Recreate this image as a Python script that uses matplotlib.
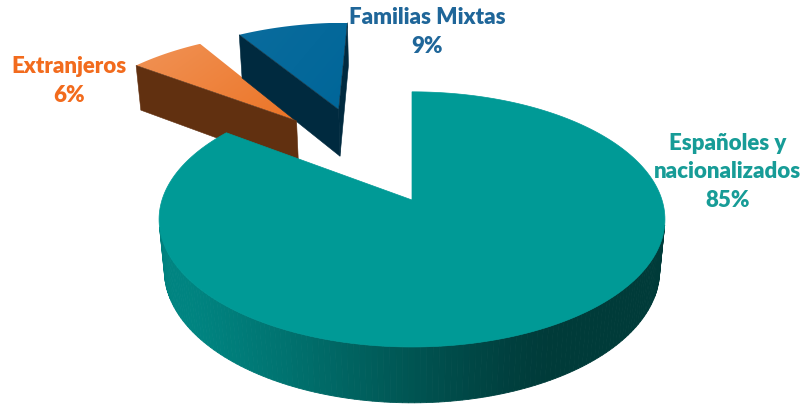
import numpy as np
import matplotlib.pyplot as plt
from matplotlib.patches import Polygon
from matplotlib.colors import to_rgb

# data (counter-clockwise from 12 o'clock)
labels = ['Familias Mixtas', 'Extranjeros', 'Españoles y\nnacionalizados']
shares = [9, 6, 85]
colors = ['#006699', '#EC7426', '#009A96']
label_colors = ['#1F6699', '#F26B1D', '#179C97']
explode = [0.88, 0.87, 0.0]
explode_dir = [112, 126, 0]  # degrees
top_light = [0.04, 0.22, 0.0]
label_pos = [(427, 32), (69, 81), (728, 172)]  # pixels

# camera for the fake 3d pie
elev = np.radians(29.9)
s, c = np.sin(elev), np.cos(elev)
D = 5.7
h = 0.238
cam = np.array([0.0, -D * c, D * s])
light = np.array([-0.87, -0.5, 0.0])
light = light / np.linalg.norm(light)


def project(p):
    x, y, z = p
    w = y * c - z * s
    f = D / (D + w)
    return x * f, (y * s + z * c) * f


def shade(col, k):
    return tuple(np.clip(np.array(to_rgb(col)) * k, 0, 1))


fig = plt.figure(figsize=(8.03, 4.05), dpi=100)
ax = fig.add_axes([0, 0, 1, 1])
ax.set_axis_off()

# build slices
slices = []
start = 90.0
for i, v in enumerate(shares):
    t1 = start
    t2 = start + 360.0 * v / sum(shares)
    start = t2
    td = np.radians(explode_dir[i])
    ox, oy = explode[i] * np.cos(td), explode[i] * np.sin(td)
    slices.append((i, t1, t2, ox, oy))

# back to front
slices.sort(key=lambda t: -t[4])

for i, t1, t2, ox, oy in slices:
    n = max(4, int(shares[i] * 3))
    ts = np.radians(np.linspace(t1, t2, n))
    apex_t = (ox, oy, 0.0)
    apex_b = (ox, oy, -h)
    rim_t = [(ox + np.cos(t), oy + np.sin(t), 0.0) for t in ts]
    rim_b = [(ox + np.cos(t), oy + np.sin(t), -h) for t in ts]

    # cut faces
    for t, nrm in [(np.radians(t1), (np.sin(np.radians(t1)), -np.cos(np.radians(t1)), 0)),
                   (np.radians(t2), (-np.sin(np.radians(t2)), np.cos(np.radians(t2)), 0))]:
        p = np.array([ox + 0.5 * np.cos(t), oy + 0.5 * np.sin(t), -h / 2])
        if np.dot(nrm, cam - p) > 0:
            e_t = (ox + np.cos(t), oy + np.sin(t), 0.0)
            e_b = (ox + np.cos(t), oy + np.sin(t), -h)
            quad = [project(q) for q in (apex_t, e_t, e_b, apex_b)]
            col = shade(colors[i], 0.41)
            ax.add_patch(Polygon(quad, closed=True, facecolor=col,
                                 edgecolor=col, linewidth=0.4))

    # outer wall
    for j in range(n - 1):
        mid = (ts[j] + ts[j + 1]) / 2
        nrm = np.array([np.cos(mid), np.sin(mid), 0.0])
        p = np.array([ox + np.cos(mid), oy + np.sin(mid), -h / 2])
        if np.dot(nrm, cam - p) <= 0:
            continue
        d = max(0.0, np.dot(nrm, light))
        col = shade(colors[i], 0.38 + 0.48 * d ** 1.5)
        quad = [project(q) for q in (rim_t[j], rim_t[j + 1], rim_b[j + 1], rim_b[j])]
        ax.add_patch(Polygon(quad, closed=True, facecolor=col,
                             edgecolor=col, linewidth=0.6))

    # top face
    top = np.array([project(q) for q in [apex_t] + rim_t])
    if top_light[i] > 0:
        patch = Polygon(top, closed=True, facecolor='none', edgecolor='none')
        ax.add_patch(patch)
        x0, y0 = top.min(axis=0)
        x1, y1 = top.max(axis=0)
        gx, gy = np.meshgrid(np.linspace(0, 1, 200), np.linspace(0, 1, 200))
        g = np.clip((gx * 0.6 + (1 - gy) * 0.4), 0, 1)[..., None]
        base = np.array(to_rgb(colors[i]))
        lite = base + (1 - base) * top_light[i]
        img = lite * (1 - g) + base * g
        im = ax.imshow(img, extent=(x0, x1, y0, y1), origin='lower',
                       aspect='auto', interpolation='bilinear')
        im.set_clip_path(patch)
    else:
        ax.add_patch(Polygon(top, closed=True, facecolor=colors[i],
                             edgecolor=colors[i], linewidth=0.5))

# pixel layout: unexploded apex at (412, 200), 250 px per unit
ax.set_xlim(-412 / 250, (803 - 412) / 250)
ax.set_ylim(-(405 - 200) / 250, 200 / 250)

for i in range(len(shares)):
    px, py = label_pos[i]
    fig.text(px / 803, 1 - py / 405, f'{labels[i]}\n{shares[i]}%',
             ha='center', va='center', color=label_colors[i],
             fontsize=16, fontweight=800, family='Lato', linespacing=1.45)

fig.savefig('out.png', dpi=100)
